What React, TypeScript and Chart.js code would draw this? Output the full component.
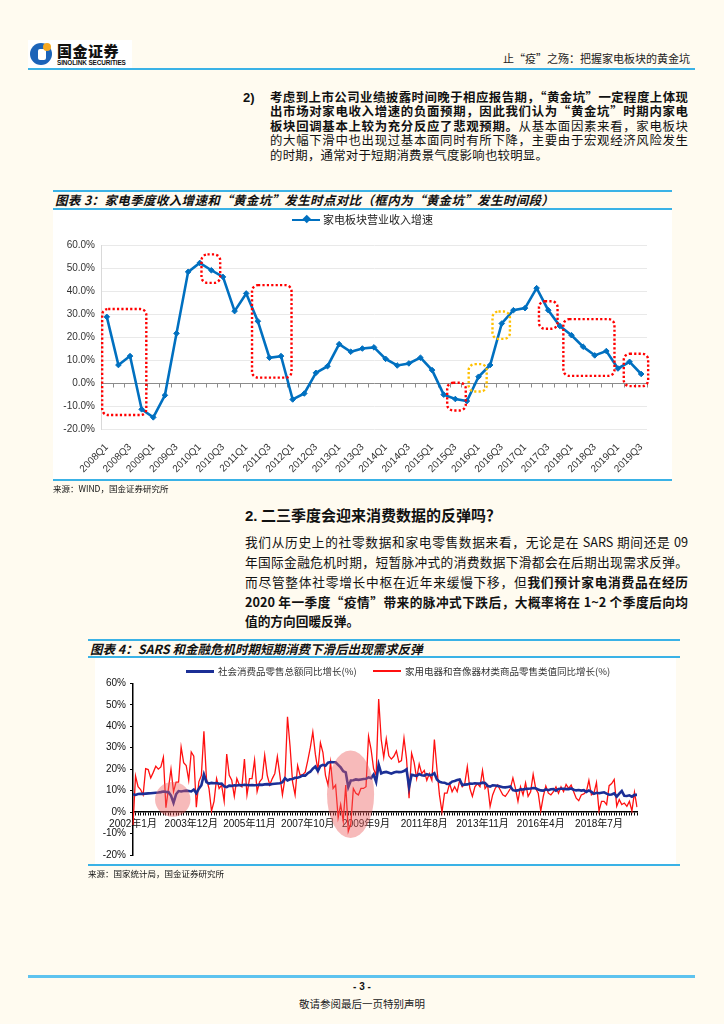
import React, { useEffect, useRef } from 'react';
import { Chart, registerables } from 'chart.js';

Chart.register(...registerables);

// ---------------- Chart 3 data ----------------
const quarterLabels: string[] = [];
for (let y = 2008; y <= 2019; y++) {
  for (let q = 1; q <= 4; q++) {
    if (y === 2019 && q === 4) continue;
    quarterLabels.push(`${y}Q${q}`);
  }
}
const applianceRevenueGrowth = [
  29.0, 8.0, 11.9, -11.3,
  -14.8, -5.2, 21.8, 48.6,
  52.5, 49.3, 46.4, 31.5,
  39.2, 27.1, 11.2, 11.9,
  -7.0, -4.4, 4.6, 7.5,
  17.1, 13.8, 15.2, 15.7,
  10.7, 7.8, 8.7, 11.2,
  5.8, -4.9, -6.8, -7.7,
  2.9, 8.0, 26.1, 31.9,
  32.8, 41.5, 31.9, 25.0,
  21.0, 16.0, 12.2, 14.1,
  6.5, 9.4, 4.1,
];
// "黄金坑" boxes, in quarter-index / percent units
const boxStart = [-0.4, 8.15, 12.5, 29.3, 31.15, 33.2, 37.2, 39.3, 44.5];
const boxEnd = [3.4, 9.76, 15.9, 30.9, 32.7, 34.7, 38.8, 43.7, 46.6];
const boxHigh = [32.4, 56.2, 42.8, 0.3, 8.4, 31.3, 35.8, 28.0, 12.9];
const boxLow = [-13.8, 43.8, 2.5, -11.8, -3.5, 19.4, 23.8, 3.3, -1.2];
const boxKind = ['red', 'red', 'red', 'red', 'gold', 'gold', 'red', 'red', 'red'];

// ---------------- Chart 4 data ----------------
const monthLabels: string[] = [];
for (let y = 2002; y <= 2019; y++) {
  for (let m = 1; m <= 12; m++) {
    if (y >= 2012 && m <= 2) continue;
    monthLabels.push(`${y}年${m}月`);
  }
}
const retailSalesYoY = [
  8.3, 8.0, 8.4, 8.5, 8.5, 8.6, 8.7, 8.8, 8.9, 9.0,
  9.1, 9.3, 9.6, 9.4, 9.3, 7.7, 4.3, 8.3, 9.8, 9.6,
  9.8, 10.0, 9.8, 9.6, 10.5, 8.8, 10.9, 12.5, 17.5, 14.0,
  13.3, 13.6, 13.4, 13.5, 13.2, 13.3, 12.0, 11.6, 12.3, 12.2,
  12.5, 12.4, 12.6, 12.5, 12.7, 12.6, 12.5, 12.6, 12.5, 12.6,
  12.8, 12.7, 12.9, 13.0, 12.8, 13.1, 13.2, 13.3, 13.4, 13.9,
  15.8, 14.7, 15.3, 15.4, 16.0, 16.0, 16.4, 17.1, 17.0, 18.1,
  18.8, 20.2, 21.2, 19.1, 21.5, 22.0, 21.6, 23.0, 23.3, 23.2,
  23.2, 22.0, 20.8, 19.0, 18.5, 11.6, 14.7, 14.8, 15.2, 15.0,
  15.2, 15.4, 15.5, 16.2, 15.8, 17.5, 14.1, 22.1, 18.0, 18.5,
  18.7, 18.3, 17.9, 18.4, 18.8, 18.6, 18.7, 19.1, 19.9, 11.6,
  17.4, 17.1, 16.9, 17.7, 17.2, 17.0, 17.7, 17.2, 17.3, 18.1,
  15.2, 14.1, 13.8, 13.7, 13.1, 13.2, 14.2, 14.5, 14.9, 15.2,
  12.6, 12.8, 12.9, 13.3, 13.2, 13.4, 13.3, 13.3, 13.7, 13.6,
  12.2, 11.9, 12.5, 12.4, 12.2, 11.9, 11.6, 11.5, 11.7, 11.9,
  10.2, 10.0, 10.1, 10.6, 10.5, 10.8, 10.9, 11.0, 11.2, 11.1,
  10.5, 10.1, 10.0, 10.6, 10.2, 10.6, 10.7, 10.0, 10.8, 10.9,
  10.9, 10.7, 10.7, 11.0, 10.4, 10.1, 10.3, 10.0, 10.2, 9.4,
  10.1, 9.4, 8.5, 9.0, 8.8, 9.0, 9.2, 8.6, 8.1, 8.2,
  8.7, 7.2, 8.6, 9.8, 7.6, 7.5, 7.8, 7.2, 8.0, 8.0,
];
const applianceRetailYoY = [
  -6, 16.8, 11.8, 10.5, 8, 20.2, 19.8, 15.9, 18.5, 21.4,
  20, 21, 25.5, 2, 11, 20, 9.5, 14, 14, 30.3,
  23, 21.7, 14.8, 28, 26, 2.3, 14.1, 17.1, 37.6, 15.6,
  11, 0.5, 5, 15.6, 11, 12.6, 5, 27, 17.1, 14.8,
  7.3, 15.6, 12.6, 11.8, 24.7, 8, 15.6, 15.6, 24.2, 9.5,
  14.1, 15.6, 26.5, 17.1, 12.6, 15.6, 18, 25.8, 17.1, 8,
  15.6, 44.4, 30.8, 14.1, 8, 21.7, 17.1, 17.4, 18.6, 24,
  30, 37.3, 27, 19.4, 32.3, 27.7, 17.1, 12.6, 23.2, 11,
  12.6, -2.6, 3.5, -4.1, 12.6, -9, -5.6, 11, 8.8, 8,
  11, 11, 11.8, 35.3, 29.2, 20.2, 17.1, 52.7, 33.8, 25.5,
  34.1, 26.2, 24.7, 26, 28.5, 23.2, 24, 34.5, 24.7, 6.5,
  27.4, 23.2, 15.6, 22.4, 17.9, 19.4, 14.8, 17.9, 14.8, 33.8,
  20.2, 8, 0, 8.8, 8.8, 13.3, 9.5, 11.8, 9.5, 14.8,
  11.8, 13.3, 21.2, 11, 7.3, 11.8, 13.3, 11.8, 19.4, 11,
  12.6, 2.7, 8, 11, 12.6, 10.3, 8, 7.3, 9, 11,
  15.9, 11, 5, 11.8, 8, 13.6, 7.3, 9.5, 17.6, 11,
  8.8, 0.5, 7.3, 12.1, 8.8, 8, 9.5, 11.8, 8.8, 11.8,
  9.5, 12.9, 11, 12.6, 9.5, 6.5, 5.3, 8, 8.5, 9.5,
  14.8, 8, 8.8, 13.8, 0.5, 5, 5, 3.5, 12.3, 13.3,
  15.2, 2.7, 5.8, 3.5, 4.2, 2.7, 5, 0.5, 9.2, 2.3,
];
// highlighted episodes (SARS, financial crisis): month index / percent units
const episodeCenter = [15.7, 85.9];
const episodeLevel = [5.9, 8.3];
const episodeHalfSpan = [7.0, 9.3];
const episodeHalfRange = [8.1, 20.4];

const NUM_FONT = '"Liberation Sans", Arial, "Noto Sans CJK SC", sans-serif';
const CJK_FONT = '"Noto Sans CJK SC", "Liberation Sans", sans-serif';
const BLUE_LINE = '#3AB2E6';

function RevenueChart() {
  const ref = useRef<HTMLCanvasElement>(null);
  useEffect(() => {
    if (!ref.current) return;
    const boxes = {
      id: 'boxes',
      beforeDatasetsDraw(chart: any) {
        const { ctx, scales } = chart;
        const x = scales.x, y = scales.y;
        ctx.save();
        ctx.strokeStyle = '#8c8c8c';
        ctx.lineWidth = 1;
        const yz = Math.round(y.getPixelForValue(0)) + 0.5;
        ctx.beginPath();
        for (let i = 0; i <= quarterLabels.length; i++) {
          const px = Math.round(x.getPixelForValue(i - 0.5)) + 0.5;
          ctx.moveTo(px, yz);
          ctx.lineTo(px, yz + 4);
        }
        ctx.stroke();
        ctx.restore();
      },
      afterDatasetsDraw(chart: any) {
        const { ctx, scales } = chart;
        const x = scales.x, y = scales.y;
        ctx.save();
        ctx.setLineDash([2.2, 2.2]);
        ctx.lineWidth = 2.4;
        for (let k = 0; k < boxStart.length; k++) {
          const x0 = x.getPixelForValue(boxStart[k]);
          const x1 = x.getPixelForValue(boxEnd[k]);
          const y0 = y.getPixelForValue(boxHigh[k]);
          const y1 = y.getPixelForValue(boxLow[k]);
          ctx.strokeStyle = boxKind[k] === 'gold' ? '#FFC000' : '#FF0000';
          ctx.beginPath();
          ctx.roundRect(x0, y0, x1 - x0, y1 - y0, 6);
          ctx.stroke();
        }
        ctx.restore();
      },
    };
    const chart = new Chart(ref.current, {
      type: 'line',
      data: {
        labels: quarterLabels,
        datasets: [
          {
            label: '家电板块营业收入增速',
            data: applianceRevenueGrowth,
            borderColor: '#0070C0',
            backgroundColor: '#0070C0',
            borderWidth: 2.6,
            pointStyle: 'rectRot',
            pointRadius: 2.8,
            pointBorderWidth: 1,
            tension: 0,
          },
        ],
      },
      options: {
        animation: false,
        responsive: false,
        maintainAspectRatio: false,
        layout: { padding: { top: 35.7, right: 25, left: 0, bottom: 0 } },
        plugins: { legend: { display: false }, tooltip: { enabled: false } },
        scales: {
          x: {
            offset: true,
            grid: { display: false },
            border: { display: false },
            ticks: {
              autoSkip: false,
              maxRotation: 45,
              minRotation: 45,
              padding: 4,
              color: '#333',
              font: { family: NUM_FONT, size: 10 },
              callback: (_v: any, i: number) => (i % 2 === 0 ? quarterLabels[i] : ''),
            },
            afterFit: (s: any) => {
              s.height = 50.7;
            },
          },
          y: {
            min: -20,
            max: 60,
            ticks: {
              stepSize: 10,
              padding: 6,
              color: '#333',
              font: { family: NUM_FONT, size: 10 },
              callback: (v: any) => `${Number(v).toFixed(1)}%`,
            },
            grid: {
              drawTicks: false,
              color: (c: any) => (c.tick && c.tick.value === 0 ? '#8c8c8c' : '#e9e9e9'),
            },
            border: { color: '#d9d9d9' },
            afterFit: (s: any) => {
              s.width = 48;
            },
          },
        },
      },
      plugins: [boxes],
    } as any);
    return () => chart.destroy();
  }, []);
  return <canvas ref={ref} width={619} height={270} style={{ display: 'block', width: 619, height: 270 }} />;
}

function RetailChart() {
  const ref = useRef<HTMLCanvasElement>(null);
  useEffect(() => {
    if (!ref.current) return;
    const episodes = {
      id: 'episodes',
      afterDatasetsDraw(chart: any) {
        const { ctx, scales } = chart;
        const x = scales.x, y = scales.y;
        ctx.save();
        ctx.fillStyle = 'rgba(236, 90, 90, 0.42)';
        for (let k = 0; k < episodeCenter.length; k++) {
          const cx = x.getPixelForValue(episodeCenter[k]);
          const cy = y.getPixelForValue(episodeLevel[k]);
          const rx = Math.abs(x.getPixelForValue(episodeCenter[k] + episodeHalfSpan[k]) - cx);
          const ry = Math.abs(y.getPixelForValue(episodeLevel[k] + episodeHalfRange[k]) - cy);
          ctx.beginPath();
          ctx.ellipse(cx, cy, rx, ry, 0, 0, Math.PI * 2);
          ctx.fill();
        }
        ctx.restore();
      },
    };
    const chart = new Chart(ref.current, {
      type: 'line',
      data: {
        labels: monthLabels,
        datasets: [
          {
            label: '社会消费品零售总额同比增长(%)',
            data: retailSalesYoY,
            borderColor: '#1B2F96',
            borderWidth: 2.6,
            pointRadius: 0,
            tension: 0,
          },
          {
            label: '家用电器和音像器材类商品零售类值同比增长(%)',
            data: applianceRetailYoY,
            borderColor: '#FF1010',
            borderWidth: 1.3,
            pointRadius: 0,
            tension: 0,
          },
        ],
      },
      options: {
        animation: false,
        responsive: false,
        maintainAspectRatio: false,
        layout: { padding: { top: 25.3, right: 39, left: 0, bottom: 5 } },
        plugins: { legend: { display: false }, tooltip: { enabled: false } },
        scales: {
          x: {
            position: { y: 0 },
            offset: false,
            grid: { drawOnChartArea: false, drawTicks: true, tickLength: 3, color: '#000', lineWidth: 1 },
            border: { display: true, color: '#000', width: 1.5 },
            ticks: {
              autoSkip: false,
              maxRotation: 0,
              minRotation: 0,
              padding: 3,
              color: '#111',
              font: { family: NUM_FONT, size: 10 },
              callback: (_v: any, i: number) => (i % 23 === 0 ? monthLabels[i] : ''),
            },
          },
          y: {
            min: -20,
            max: 60,
            ticks: {
              stepSize: 10,
              padding: 4,
              color: '#111',
              font: { family: NUM_FONT, size: 10 },
              callback: (v: any) => `${v}%`,
            },
            grid: { drawOnChartArea: false, drawTicks: true, tickLength: 3, color: '#000' },
            border: { color: '#000', width: 1.5 },
            afterFit: (s: any) => {
              s.width = 38;
            },
          },
        },
      },
      plugins: [episodes],
    } as any);
    return () => chart.destroy();
  }, []);
  return <canvas ref={ref} width={581} height={207} style={{ display: 'block', width: 581, height: 207 }} />;
}

const abs = (left: number, top: number, extra: React.CSSProperties = {}): React.CSSProperties => ({
  position: 'absolute',
  left,
  top,
  ...extra,
});

const justLine = (left: number, top: number, width: number, size: number, lh: number): React.CSSProperties => ({
  position: 'absolute',
  left,
  top,
  width,
  fontSize: size,
  lineHeight: `${lh}px`,
  textAlign: 'justify',
  textAlignLast: 'justify' as any,
  whiteSpace: 'normal',
});

export default function App() {
  const p1Size = 12.4;
  const p1Lh = 15;
  const p1Tops = [89.5, 104, 118.5, 133, 147.5];
  const p2Size = 12.7;
  const p2Lh = 19.5;
  const p2Tops = [532, 552, 572, 591.5, 610.5];
  return (
    <div
      style={{
        position: 'absolute',
        left: 0,
        top: 0,
        width: 724,
        height: 1024,
        overflow: 'hidden',
        background: '#FFFBF0',
        fontFamily: CJK_FONT,
        color: '#111',
      }}
    >
      {/* header */}
      <div style={abs(28, 40, { width: 104, height: 28, background: '#fff' })} />
      <div style={abs(30, 43, { width: 22, height: 22, borderRadius: '50%', background: '#1B63B8' })} />
      <div style={abs(38, 49, { width: 8, height: 11, borderRadius: 2, background: '#fff' })} />
      <div style={abs(43, 43, { width: 8, height: 8, borderRadius: '50%', background: '#F6A821' })} />
      <div style={abs(57, 42, { fontSize: 15, fontWeight: 900, lineHeight: '17px', letterSpacing: 0.5 })}>国金证券</div>
      <div style={abs(57, 59, { fontSize: 6.4, fontWeight: 700, lineHeight: '8px', fontFamily: NUM_FONT, letterSpacing: -0.1 })}>
        SINOLINK SECURITIES
      </div>
      <div style={{ position: 'absolute', right: 34, top: 52, fontSize: 11, lineHeight: '13px', color: '#222' }}>
        止“疫”之殇：把握家电板块的黄金坑
      </div>
      <div style={abs(28, 68, { width: 667, height: 2, background: BLUE_LINE })} />

      {/* paragraph 2) */}
      <div style={abs(243, p1Tops[0], { fontSize: 13, fontWeight: 700, lineHeight: `${p1Lh}px`, fontFamily: NUM_FONT })}>2)</div>
      <div style={{ ...justLine(270, p1Tops[0], 418, p1Size, p1Lh), fontWeight: 700 }}>
        考虑到上市公司业绩披露时间晚于相应报告期，“黄金坑”一定程度上体现
      </div>
      <div style={{ ...justLine(270, p1Tops[1], 418, p1Size, p1Lh), fontWeight: 700 }}>
        出市场对家电收入增速的负面预期，因此我们认为“黄金坑”时期内家电
      </div>
      <div style={justLine(270, p1Tops[2], 418, p1Size, p1Lh)}>
        <b>板块回调基本上较为充分反应了悲观预期。</b>从基本面因素来看，家电板块
      </div>
      <div style={justLine(270, p1Tops[3], 418, p1Size, p1Lh)}>
        的大幅下滑中也出现过基本面同时有所下降，主要由于宏观经济风险发生
      </div>
      <div style={abs(270, p1Tops[4], { fontSize: p1Size, lineHeight: `${p1Lh}px`, letterSpacing: 0.25 })}>
        的时期，通常对于短期消费景气度影响也较明显。
      </div>

      {/* chart 3 */}
      <div style={abs(53, 190, { width: 619, height: 2, background: BLUE_LINE })} />
      <div
        style={abs(55, 192, {
          fontSize: 12.5,
          lineHeight: '16px',
          fontWeight: 700,
          fontStyle: 'italic',
          letterSpacing: 0.35,
        })}
      >
        图表 3：家电季度收入增速和“黄金坑”发生时点对比（框内为“黄金坑”发生时间段）
      </div>
      <div style={abs(53, 208, { width: 619, height: 2, background: BLUE_LINE })} />
      <div style={abs(53, 210, { width: 619, height: 270, background: '#fff' })}>
        <RevenueChart />
        <div style={abs(239, 8.5, { width: 28, height: 2.6, background: '#0070C0' })} />
        <div style={abs(250.5, 6.2, { width: 5.5, height: 5.5, background: '#0070C0', transform: 'rotate(45deg)' })} />
        <div style={abs(270, 2, { fontSize: 11, lineHeight: '14px', color: '#222' })}>家电板块营业收入增速</div>
      </div>
      <div style={abs(53, 479, { width: 619, height: 2, background: BLUE_LINE })} />
      <div style={abs(53, 483, { fontSize: 8.5, lineHeight: '11px', color: '#111' })}>来源：WIND，国金证券研究所</div>

      {/* section 2 */}
      <div style={abs(245, 505, { fontSize: 15, fontWeight: 700, lineHeight: '19px' })}>
        <span style={{ fontFamily: NUM_FONT }}>2.</span> 二三季度会迎来消费数据的反弹吗？
      </div>
      <div style={justLine(245, p2Tops[0], 443, p2Size, p2Lh)}>
        我们从历史上的社零数据和家电零售数据来看，无论是在 SARS 期间还是 09
      </div>
      <div style={justLine(245, p2Tops[1], 443, p2Size, p2Lh)}>
        年国际金融危机时期，短暂脉冲式的消费数据下滑都会在后期出现需求反弹。
      </div>
      <div style={justLine(245, p2Tops[2], 443, p2Size, p2Lh)}>
        而尽管整体社零增长中枢在近年来缓慢下移，但<b>我们预计家电消费品在经历</b>
      </div>
      <div style={{ ...justLine(245, p2Tops[3], 443, p2Size, p2Lh), fontWeight: 700 }}>
        2020 年一季度“疫情”带来的脉冲式下跌后，大概率将在 1~2 个季度后向均
      </div>
      <div style={abs(245, p2Tops[4], { fontSize: p2Size, lineHeight: `${p2Lh}px`, fontWeight: 700 })}>值的方向回暖反弹。</div>

      {/* chart 4 */}
      <div style={abs(88, 639, { width: 592, height: 2, background: BLUE_LINE })} />
      <div
        style={abs(90, 641, {
          fontSize: 12.5,
          lineHeight: '15px',
          fontWeight: 700,
          fontStyle: 'italic',
        })}
      >
        图表 4：SARS 和金融危机时期短期消费下滑后出现需求反弹
      </div>
      <div style={abs(88, 656, { width: 592, height: 2, background: BLUE_LINE })} />
      <div style={abs(95, 658, { width: 581, height: 206, background: '#fff' })}>
        <RetailChart />
        <div style={abs(91, 11.5, { width: 28, height: 3, background: '#1B2F96' })} />
        <div style={abs(123, 7, { fontSize: 9.5, lineHeight: '12px', color: '#333' })}>社会消费品零售总额同比增长(%)</div>
        <div style={abs(278, 12.3, { width: 28, height: 1.5, background: '#FF1010' })} />
        <div style={abs(310, 7, { fontSize: 9.5, lineHeight: '12px', color: '#333' })}>
          家用电器和音像器材类商品零售类值同比增长(%)
        </div>
      </div>
      <div style={abs(88, 864, { width: 592, height: 2, background: BLUE_LINE })} />
      <div style={abs(88, 868, { fontSize: 8.5, lineHeight: '11px', color: '#111' })}>来源：国家统计局，国金证券研究所</div>

      {/* footer */}
      <div style={abs(28, 975, { width: 667, height: 3, background: '#5EC3EF' })} />
      <div style={abs(0, 981, { width: 724, textAlign: 'center', fontSize: 10, lineHeight: '12px', fontWeight: 700, fontFamily: NUM_FONT })}>
        - 3 -
      </div>
      <div style={abs(0, 997, { width: 724, textAlign: 'center', fontSize: 10.5, lineHeight: '13px', color: '#222' })}>
        敬请参阅最后一页特别声明
      </div>
    </div>
  );
}
